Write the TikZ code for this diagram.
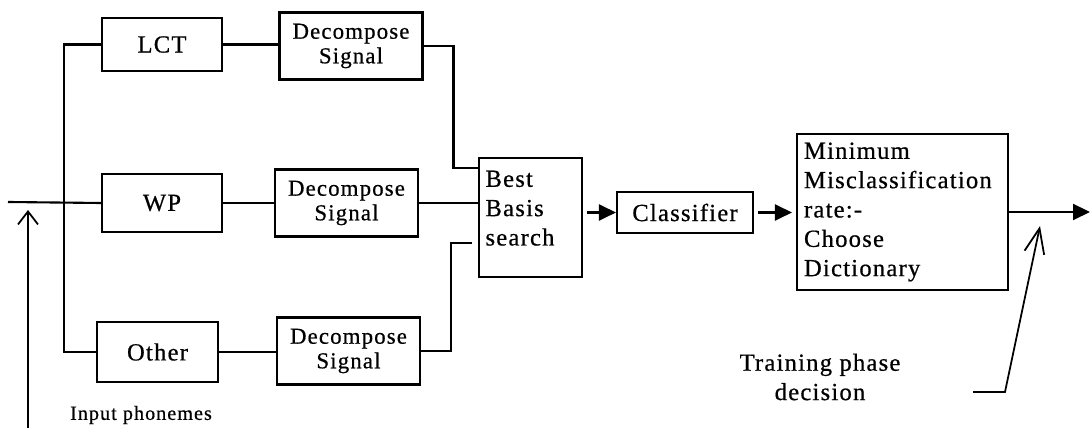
\documentclass[tikz,border=0pt]{standalone}
\usepackage{fontspec}
\setmainfont{Liberation Serif}[LetterSpace=5, FakeBold=0.6]
\usetikzlibrary{arrows.meta}
\begin{document}
\begin{tikzpicture}[
        x=0.02cm, y=-0.02cm,
        wire/.style={line width=1.2pt},
        flow/.style={line width=1.2pt, shorten <=0.08cm, -{Triangle[length=0.34cm, width=0.32cm]}},
        pointer/.style={line width=1pt, -{Straight Barb[length=0.26cm, width=0.4cm]}},
        block/.style={draw, line width=1.2pt, inner sep=0pt, font=\fontsize{14}{16.7}\selectfont},
        decomp/.style={draw, line width=1.2pt, inner sep=0pt, align=center,
            minimum width=2.86cm, minimum height=1.34cm, font=\fontsize{13}{14}\selectfont},
        lab/.style={font=\fontsize{14}{16.7}\selectfont, align=center}
    ]
        \useasboundingbox (0,0) rectangle (1090,428);

        % transforms
        \node[block, minimum width=2.4cm, minimum height=1.06cm] (lct) at (162,44.5) {LCT};
        \node[block, minimum width=2.4cm, minimum height=1.16cm] (wp) at (162,203) {WP};
        \node[block, minimum width=2.42cm, minimum height=1.2cm] (other) at (157.5,352) {Other};

        % decomposition
        \node[decomp] (dec1) at (351,46) {Decompose\\Signal};
        \node[decomp] (dec2) at (346.5,203) {Decompose\\Signal};
        \node[decomp] (dec3) at (348.5,351) {Decompose\\Signal};

        % search and classification
        \node[block, align=left, text width=1.8cm, inner xsep=0.13cm, minimum height=2.38cm]
            (best) at (530.5,217.5) {Best\\Basis\\search\\[-6pt]\mbox{}};
        \node[block, minimum width=2.72cm, minimum height=0.82cm] (cls) at (685,212.5) {Classifier};
        \node[block, align=left, text width=3.94cm, inner xsep=0.14cm, minimum height=3.12cm]
            (mmr) at (902.5,212) {Minimum\\Misclassification\\rate:-\\Choose\\Dictionary};

        % input bus
        \coordinate (in) at (8,202);
        \coordinate (bus) at (64,202);
        \draw[wire] (in) -- (wp.west);
        \draw[wire] (lct.west) -| (bus) |- (other.west);

        \draw[wire] (lct.east) -- (lct.east -| dec1.west);
        \draw[wire] (wp.east) -- (wp.east -| dec2.west);
        \draw[wire] (other.east) -- (other.east -| dec3.west);

        % into the search
        \draw[wire] (dec1.east) -- ++(30,0) |- ([yshift=0.99cm]best.west);
        \draw[wire] (dec2.east) -- (dec2.east -| best.west);
        \draw[wire, shorten >=0.12cm] (dec3.east) -- ++(30,0) |- ([yshift=-0.51cm]best.west);

        % chain
        \draw[flow] (best.east |- cls.west) -- (cls.west);
        \draw[flow, shorten >=0.08cm] (cls.east) -- (cls.east -| mmr.west);
        \coordinate (out) at (1090,212);
        \draw[flow, shorten <=0pt] (mmr.east) -- (out);

        % labels
        \node[font=\fontsize{11.5}{14}\selectfont] (inlab) at (141,415) {Input phonemes};
        \coordinate (intail) at (28,428);
        \coordinate (intip) at (28,210);
        \draw[pointer] (intail) -- (intip);

        \node[lab] (trlab) at (820,377) {Training phase\\decision};
        \coordinate (trtail) at (973,392);
        \coordinate (trbend) at (1005,392);
        \coordinate (trtip) at (1040,226);
        \draw[pointer, -{Straight Barb[length=0.5cm, width=0.4cm]}] (trtail) -- (trbend) -- (trtip);

    \end{tikzpicture}
\end{document}
